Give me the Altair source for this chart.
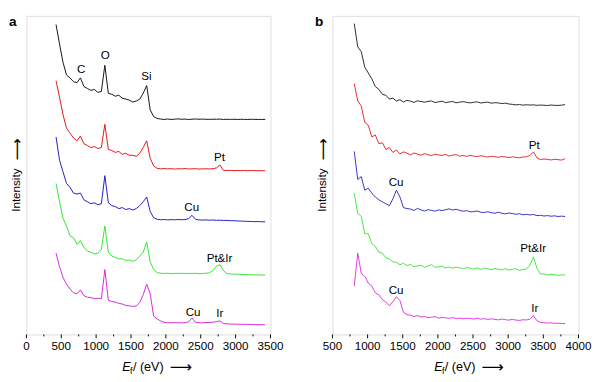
import altair as alt
import pandas as pd

FONT = "Liberation Sans"

# ---------------- panel a ----------------
energy_a = list(range(425, 3426, 50))  # eV sampling grid, 425..3425
black_a = [320, 300, 281, 268, 265, 261, 260, 265, 256, 254, 252, 253, 250, 251, 278, 249, 248, 246, 247, 244,
           243, 242, 240, 241, 243, 249, 257, 232, 225, 223, 222.5, 222, 222.5, 222, 222.3, 222.6, 222.2, 222.4, 222, 222.3,
           222.5, 222.2, 222.4, 222.2, 222.1, 222.3, 222.2, 222.4, 222, 222.2, 222.1, 222.2, 222, 222.2, 222.1, 222,
           222.2, 222.1, 222, 222.1, 222]
red_a = [262, 245, 227, 213, 208, 203, 200, 205, 197, 195, 193, 194, 192, 193, 217, 191, 190, 188, 189, 186,
         187, 185, 185, 184, 187, 193, 200, 182, 174, 171.5, 171, 171.3, 171, 171.2, 170.8, 171.1, 171, 171.3, 170.9, 171,
         171.2, 170.8, 171, 171.1, 170.9, 171.2, 172, 175, 169.5, 169.3, 169.5, 169.2, 169.4, 169.2, 169.3, 169.1,
         169.3, 169.2, 169.1, 169.2, 169]
blue_a = [204, 180, 168, 156, 152, 146, 145, 146, 139, 137, 135, 136, 134, 135, 164, 136, 133, 132, 130, 131,
          129, 130, 128.5, 130, 133, 137, 142, 127, 120.5, 119, 118.5, 118.7, 118.3, 118.6, 118.4, 118.7, 118.5, 118.6, 119.5, 123,
          119, 118.3, 118.1, 118.3, 118, 118.2, 117.8, 118, 117.7, 117.8, 117.5, 117.4, 117.2, 117.1, 116.9, 116.8,
          116.7, 116.5, 116.6, 116.4, 116.3]
green_a = [156, 137, 120, 112, 102, 100, 93, 97, 90, 86, 85, 83, 84, 88, 112, 85, 81, 79.5, 78, 78,
           76.5, 77, 75.5, 77, 81, 85, 95.5, 75, 67, 64, 63.2, 63, 63.3, 62.8, 63.1, 63, 63.2, 62.9, 63.1, 63,
           63.2, 62.8, 63, 63.3, 63.5, 66, 70.5, 72, 66, 62.8, 62.5, 62.3, 62.2, 62, 61.9, 61.8,
           61.6, 61.5, 61.5, 61.4, 61.3]
magenta_a = [84, 70, 59, 52, 47, 43, 42, 46, 40, 38.5, 38, 37, 37.5, 37, 67, 35.5, 34, 33.5, 32, 31.5,
             30, 29.5, 29, 29.3, 33, 41, 52, 42, 19, 16, 14, 12.5, 12.2, 12, 12.3, 12.1, 12, 12.2, 13, 17,
             12.5, 12.2, 12, 12.3, 12.4, 12.6, 13.3, 14, 11.3, 11, 10.8, 10.7, 10.6, 10.5, 10.4, 10.4,
             10.3, 10.2, 10.2, 10.1, 10]
peak_text_a = ["C", "O", "Si", "Pt", "Cu", "Pt&Ir", "Cu", "Ir"]
peak_energy_a = [785, 1130, 1722, 2770, 2370, 2770, 2390, 2775]
peak_level_a = [274, 288, 267, 183, 132, 79, 23, 22]
major_ticks_a = [0, 500, 1000, 1500, 2000, 2500, 3000, 3500]
minor_ticks_a = [250, 750, 1250, 1750, 2250, 2750, 3250]

# ---------------- panel b ----------------
energy_b = list(range(810, 3811, 50))  # eV sampling grid, 810..3810
black_b = [321, 297, 292, 276, 270, 264, 256, 253, 248, 247, 243, 244, 241, 242.5, 240, 241.8, 240.9, 239.6, 241.3, 240.5,
           239.9, 240.7, 241.1, 239.5, 240.2, 240.9, 239.4, 240.1, 240.6, 239.2, 239.9, 240.4, 239.7, 239.1, 239.8, 240.2,
           239, 239.5, 239.9, 238.8, 239.3, 239.1, 238.4, 238.9, 238, 237.6, 237.1, 237.4, 236.8, 237.2, 236.9, 237.1,
           236.6, 236.9, 236.7, 236.4, 236.9, 236.6, 236.5, 236.8, 237.3]
red_b = [259, 241, 236, 219, 216, 204, 206, 197, 198, 191, 193, 188, 190.5, 186.5, 188.5, 187.2, 185.5, 187.4, 186.2, 185.1,
         186.8, 185.6, 184.7, 186.3, 185.4, 184.9, 185.9, 184.3, 185.2, 185.6, 184.1, 184.8, 183.9, 185, 184.2, 183.6,
         184.6, 183.9, 183.2, 184.1, 183.6, 182.9, 183.8, 183.3, 182.6, 183.4, 182.9, 182.4, 183.3, 183.5, 184.8, 188.5,
         182.3, 180.6, 181.2, 180.8, 180.2, 180.9, 180.5, 180.1, 181.6]
blue_b = [189, 160, 163, 149, 151, 146, 142, 139, 137, 135, 133, 140, 149, 142, 131, 130, 129.5, 128, 130.2, 128.6,
          127.5, 128.9, 128.1, 127.3, 128.7, 127.9, 128.8, 129.7, 128.5, 129.3, 128.1, 127.3, 127.9, 126.6, 126.9, 127.5,
          126.2, 125.9, 126.8, 125.7, 125.2, 126.3, 125.1, 124.6, 125.4, 124.9, 124.1, 124.7, 123.6, 124, 123.4, 123.9,
          122.7, 123.1, 122.3, 122.8, 122.1, 122.5, 121.8, 122.2, 121.8]
green_b = [146, 125, 122, 104, 104, 94, 91, 85, 84, 79, 78, 75, 74.5, 72, 73.5, 71.2, 72.3, 69.9, 70.8, 71.5,
           69.3, 70.7, 72.1, 69.2, 69.9, 70.5, 68.6, 69.8, 68.4, 69.5, 68.9, 67.7, 69.2, 68.4, 67.5, 68.8,
           67.3, 68.6, 67.9, 66.8, 68.1, 67.4, 66.7, 68, 66.5, 67.3, 67.8, 66.2, 67.1, 67.6, 71.5, 80,
           68.2, 62.4, 62.6, 61.5, 62.2, 61.7, 61.2, 61.6, 61.3]
magenta_b = [50, 84, 63, 60, 53, 50, 43, 41, 36, 33.5, 29.5, 34, 39, 35, 23, 20.5, 20, 18.5, 19.6, 18,
             18.6, 17.4, 17.9, 18.3, 16.9, 17.6, 17.2, 16.6, 17.5, 16.4, 16.9, 16.2, 16.8, 16.5, 15.9, 16.7,
             15.9, 16.3, 15.5, 16.2, 15.6, 15.1, 15.9, 15.3, 14.8, 15.6, 14.9, 14.5, 15.2, 15, 15.8, 19.5,
             14.2, 12.4, 12.1, 11.8, 12.1, 11.5, 11.7, 11.2, 11.3]
peak_text_b = ["Pt", "Cu", "Pt&Ir", "Cu", "Ir"]
peak_energy_b = [3370, 1405, 3357, 1405, 3380]
peak_level_b = [196, 157, 89, 46, 27]
major_ticks_b = [500, 1000, 1500, 2000, 2500, 3000, 3500, 4000]
minor_ticks_b = [750, 1250, 1750, 2250, 2750, 3250, 3750]

series_names = ["s1", "s2", "s3", "s4", "s5"]
series_colors = ["#111111", "#e01414", "#1c1cc8", "#2ee62e", "#dd22dd"]

W_A, W_B, H = 252, 254, 329


def long_frame(energy, series):
    rows = []
    for name, vals in zip(series_names, series):
        for e, v in zip(energy, vals):
            rows.append({"E": e, "I": v, "s": name})
    return pd.DataFrame(rows)


def panel(df, peaks, x_domain, majors, minors, width, letter, title_x0, stroke_w):
    xscale = alt.Scale(domain=x_domain, nice=False, zero=False)
    yscale = alt.Scale(domain=[0, H], nice=False, zero=False)
    lines = alt.Chart(df).mark_line(strokeWidth=stroke_w, clip=True).encode(
        x=alt.X("E:Q", scale=xscale, axis=None),
        y=alt.Y("I:Q", scale=yscale, axis=None),
        color=alt.Color("s:N", scale=alt.Scale(domain=series_names, range=series_colors), legend=None),
    )
    major_df = pd.DataFrame({"E": majors, "lab": [str(v) for v in majors]})
    major = alt.Chart(major_df).mark_rule(color="black", strokeWidth=1).encode(
        x=alt.X("E:Q", scale=xscale, axis=None),
        y=alt.value(H),
        y2=alt.value(H + 4),
    )
    tick_labels = alt.Chart(major_df).mark_text(
        font=FONT, fontSize=12, color="black", baseline="top", align="center"
    ).encode(
        x=alt.X("E:Q", scale=xscale, axis=None),
        y=alt.value(H + 7),
        text="lab:N",
    )
    minor = alt.Chart(pd.DataFrame({"E": minors})).mark_rule(color="black", strokeWidth=1).encode(
        x=alt.X("E:Q", scale=xscale, axis=None),
        y=alt.value(H),
        y2=alt.value(H + 2),
    )
    labels = alt.Chart(peaks).mark_text(font=FONT, fontSize=12, color="black", baseline="middle").encode(
        x=alt.X("E:Q", scale=xscale, axis=None),
        y=alt.Y("I:Q", scale=yscale, axis=None),
        text="t:N",
    )
    one = pd.DataFrame({"k": [0]})
    letter_mark = alt.Chart(one).mark_text(
        font=FONT, fontSize=14, fontWeight="bold", align="left", baseline="alphabetic", color="black"
    ).encode(x=alt.value(-18), y=alt.value(10), text=alt.value(letter))
    ytitle = alt.Chart(one).mark_text(
        font=FONT, fontSize=12, angle=270, align="center", baseline="middle", color="black"
    ).encode(x=alt.value(-11), y=alt.value(180), text=alt.value("Intensity"))
    yarrow = alt.Chart(one).mark_text(
        font="DejaVu Sans", fontSize=16, angle=270, align="center", baseline="middle", color="black"
    ).encode(x=alt.value(-10), y=alt.value(138), text=alt.value("\u27f6"))
    ty = H + 34
    t_e = alt.Chart(one).mark_text(
        font=FONT, fontSize=13, fontStyle="italic", align="left", baseline="middle", color="black"
    ).encode(x=alt.value(title_x0), y=alt.value(ty), text=alt.value("E"))
    t_f = alt.Chart(one).mark_text(
        font=FONT, fontSize=9, align="left", baseline="middle", color="black"
    ).encode(x=alt.value(title_x0 + 8), y=alt.value(ty + 4), text=alt.value("f"))
    t_rest = alt.Chart(one).mark_text(
        font=FONT, fontSize=13, align="left", baseline="middle", color="black"
    ).encode(x=alt.value(title_x0 + 11), y=alt.value(ty), text=alt.value("/ (eV)"))
    t_arrow = alt.Chart(one).mark_text(
        font="DejaVu Sans", fontSize=16, align="left", baseline="middle", color="black"
    ).encode(x=alt.value(title_x0 + 49), y=alt.value(ty), text=alt.value("\u27f6"))
    return alt.layer(lines, major, minor, tick_labels, labels, letter_mark, ytitle, yarrow,
                     t_e, t_f, t_rest, t_arrow).properties(width=width, height=H)


df_a = long_frame(energy_a, [black_a, red_a, blue_a, green_a, magenta_a])
df_b = long_frame(energy_b, [black_b, red_b, blue_b, green_b, magenta_b])
peaks_a = pd.DataFrame({"E": peak_energy_a, "I": peak_level_a, "t": peak_text_a})
peaks_b = pd.DataFrame({"E": peak_energy_b, "I": peak_level_b, "t": peak_text_b})

pa = panel(df_a, peaks_a, [0, 3500], major_ticks_a, minor_ticks_a, W_A, "a", W_A / 2 - 27, 1.0)
pb = panel(df_b, peaks_b, [500, 4000], major_ticks_b, minor_ticks_b, W_B, "b", W_B / 2 - 22, 0.9)

chart = alt.hconcat(pa, pb, spacing=31).properties(
    padding={"left": 0, "top": 0, "right": 0, "bottom": 0}
).configure_view(stroke="black", strokeWidth=1).configure(background="white")

chart.save("out.html", embed_options={"renderer": "svg", "actions": False})
